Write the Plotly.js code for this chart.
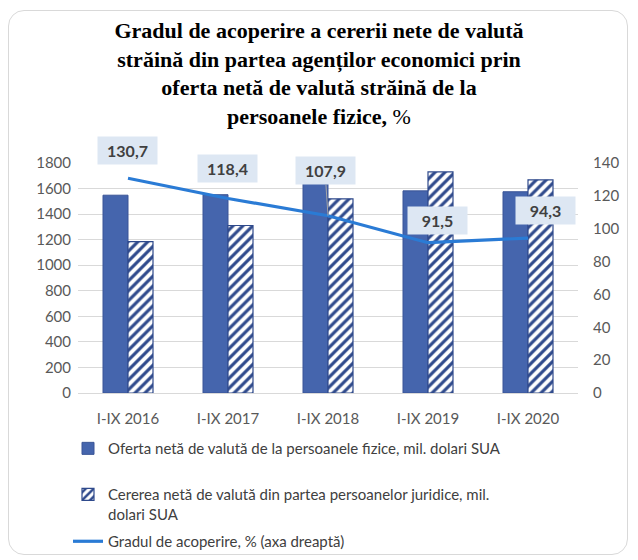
<!DOCTYPE html>
<html>
<head>
<meta charset="utf-8">
<script src="https://cdn.plot.ly/plotly-3.0.1.min.js"></script>
<style>
  html, body { margin: 0; padding: 0; background: #ffffff; }
  #wrap { position: relative; width: 638px; height: 560px; }
  #chart { width: 638px; height: 560px; }
  #frame { position: absolute; left: 8px; top: 10px; width: 620px; height: 545px;
           border: 1.5px solid #d9d9d9; border-radius: 16px; pointer-events: none; box-sizing: border-box; }
</style>
</head>
<body>
<div id="wrap">
  <div id="chart"></div>
  <div id="frame"></div>
</div>
<script>
// ---- data ----
const categories = ["I-IX 2016", "I-IX 2017", "I-IX 2018", "I-IX 2019", "I-IX 2020"];
const ofertaPF = [1548, 1552, 1640, 1582, 1575];      // mil. dolari SUA
const cerereaPJ = [1185, 1311, 1520, 1730, 1668];     // mil. dolari SUA
const gradAcoperire = [130.7, 118.4, 107.9, 91.5, 94.3]; // %
const gradLabels = ["130,7", "118,4", "107,9", "91,5", "94,3"];

const nameOferta = "Oferta netă de valută de la persoanele fizice, mil. dolari SUA";
const nameCererea = "Cererea netă de valută din partea persoanelor juridice, mil.<br>dolari SUA";
const nameGrad = "Gradul de acoperire, % (axa dreaptă)";

// label offsets (pixels) relative to each point
const labelOffsetX = [-1, -1, -3, 9, 17];
const labelOffsetY = [-28, -30, -45, -22, -28];
const showLeader = [false, false, true, false, false];

const LATO = "Lato, 'Open Sans', sans-serif";

const traces = [
  {
    type: "bar", x: categories, y: ofertaPF, name: nameOferta,
    marker: { color: "#4565ad", line: { color: "#3a5597", width: 1 } },
    legend: "legend", hoverinfo: "skip"
  },
  {
    type: "bar", x: categories, y: cerereaPJ, name: nameCererea,
    marker: { color: "#ffffff", line: { color: "#2f4a8c", width: 1.2 },
              pattern: { shape: "/", fgcolor: "#2f4a8c", bgcolor: "#ffffff", size: 7, solidity: 0.45 } },
    legend: "legend2", hoverinfo: "skip"
  },
  {
    type: "scatter", mode: "lines", x: categories, y: gradAcoperire, yaxis: "y2",
    name: nameGrad, line: { color: "#2a7bd5", width: 3.2 },
    legend: "legend3", hoverinfo: "skip"
  }
];

const annotations = categories.map((c, i) => ({
  x: c, y: gradAcoperire[i], xref: "x", yref: "y2",
  text: "<b>" + gradLabels[i] + "</b>",
  showarrow: true, arrowhead: 0, standoff: 0, startstandoff: 0,
  arrowwidth: 1, arrowcolor: showLeader[i] ? "#a6a6a6" : "rgba(0,0,0,0)",
  ax: labelOffsetX[i], ay: labelOffsetY[i],
  bgcolor: "#dde7f3", borderpad: 4, width: 51, height: 19,
  font: { family: LATO, size: 16, color: "#404040" }
}));

const legendBase = {
  orientation: "v", x: -0.02, xanchor: "left", yanchor: "top", valign: "top",
  font: { family: LATO, size: 15, color: "#404040" },
  bgcolor: "rgba(0,0,0,0)"
};

const layout = {
  width: 638, height: 560,
  paper_bgcolor: "#ffffff", plot_bgcolor: "#ffffff",
  margin: { l: 78, r: 60, t: 163, b: 167, autoexpand: false },
  title: {
    text: "<b>Gradul de acoperire a cererii nete de valută<br>străină din partea agenților economici prin<br>oferta netă de valută străină de la<br>persoanele fizice,</b> %",
    font: { family: "'Liberation Serif', 'DejaVu Serif', serif", size: 22, color: "#000000" },
    x: 0.5, xref: "container", xanchor: "center",
    y: 0.932, yref: "container", yanchor: "top"
  },
  barmode: "group", bargap: 0.5, bargroupgap: 0,
  xaxis: {
    type: "category", showgrid: false, zeroline: false,
    showline: true, linecolor: "#d9d9d9", linewidth: 1, ticks: "",
    ticklabelstandoff: 12,
    tickfont: { family: LATO, size: 15, color: "#595959" }
  },
  yaxis: {
    range: [0, 1800], dtick: 200, showgrid: true, gridcolor: "#d9d9d9", gridwidth: 1,
    zeroline: false, showline: false, ticks: "", ticklabelstandoff: 6,
    tickfont: { family: LATO, size: 15, color: "#595959" }
  },
  yaxis2: {
    overlaying: "y", side: "right", range: [0, 140], dtick: 20, showgrid: false,
    zeroline: false, showline: false, ticks: "", ticklabelstandoff: 14,
    tickfont: { family: LATO, size: 15, color: "#595959" }
  },
  showlegend: true,
  legend: Object.assign({}, legendBase, { y: -0.17 }),
  legend2: Object.assign({}, legendBase, { y: -0.37 }),
  legend3: Object.assign({}, legendBase, { y: -0.574 }),
  annotations: annotations
};

Plotly.newPlot("chart", traces, layout, { displayModeBar: false, staticPlot: true });
</script>
</body>
</html>
